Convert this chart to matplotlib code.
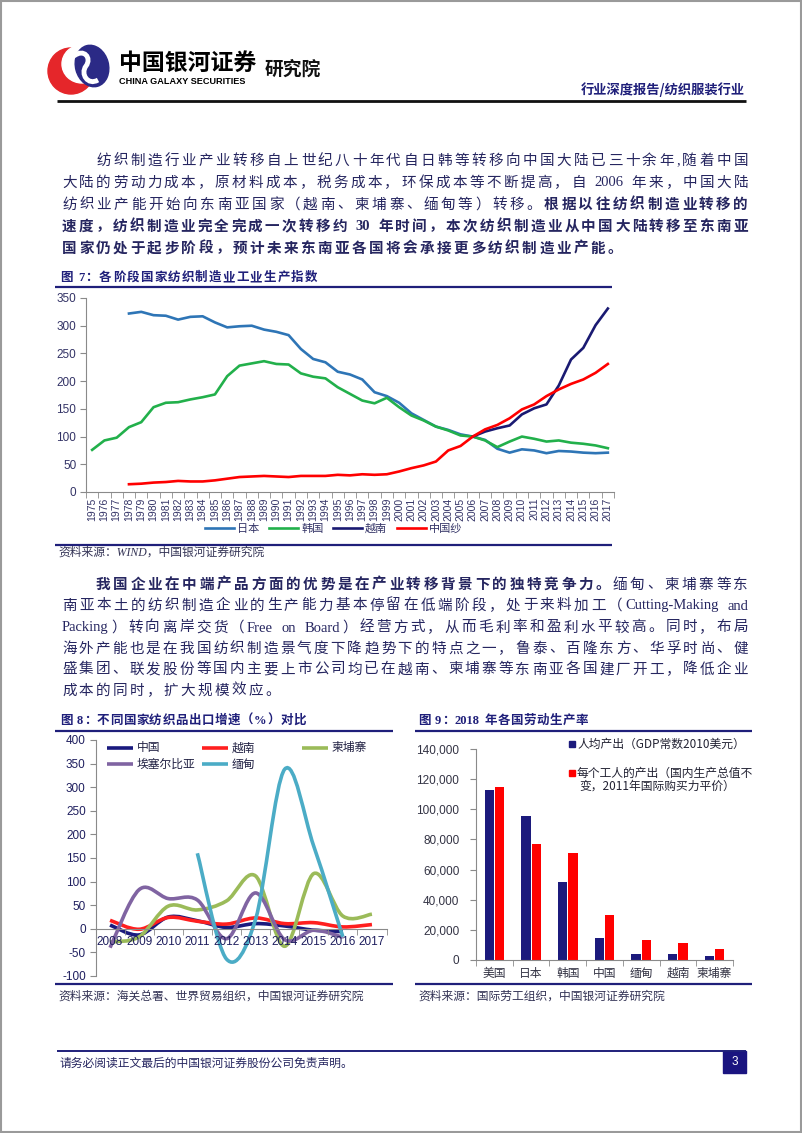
import numpy as np
import matplotlib
matplotlib.use("Agg")
import matplotlib.pyplot as plt
from matplotlib.path import Path
from matplotlib.patches import PathPatch, Rectangle, Ellipse

plt.rcParams['font.family'] = ['Liberation Sans', 'Noto Sans CJK SC']
plt.rcParams['axes.unicode_minus'] = False

nan = np.nan
W, H = 802, 1133
NAVY = '#1F1F7A'
TEXT = '#262660'
CJK = 'Noto Sans CJK SC'
LATIN = 'Liberation Serif'

# ---- figure 7 data: textile manufacturing production index ----
years7 = list(range(1975, 2018))
japan = [nan, nan, nan,
         322, 325, 319, 318, 311, 316, 317, 306, 297, 299,
         300, 293, 289, 283, 258, 240, 234, 217, 212, 203,
         180, 173, 161, 142, 130, 118, 112, 104, 100, 94,
         78, 71, 77, 75, 70, 74, 73, 71, 70, 71]
korea = [76, 93, 98, 117, 126, 153, 161, 162, 167, 171,
         176, 209, 228, 232, 236, 231, 230, 214, 208, 205,
         189, 177, 165, 160, 170, 153, 138, 129, 118, 111,
         102, 100, 93, 81, 91, 100, 96, 91, 93, 89,
         87, 84, 79]
vietnam7 = [nan] * 31 + [100, 109, 115, 120, 140, 151, 158, 192, 239, 260, 301, 331]
china_yarn = [nan, nan, nan,
              14, 15, 17, 18, 20, 19, 19, 21, 24, 27,
              28, 29, 28, 27, 29, 29, 29, 31, 30, 32,
              31, 32, 37, 43, 48, 55, 75, 83, 100, 113,
              121, 133, 149, 158, 173, 185, 195, 203, 215, 231]

# ---- figure 8 data: textile export growth (%) ----
years8 = list(range(2008, 2018))
china8 = [8, -13, 25, 17, 3, 11, 6, -3, -6, nan]
vietnam8 = [18, -1, 24, 16, 10, 23, 11, 13, 4, 9]
cambodia8 = [-28, -17, 48, 40, 59, 112, -37, 117, 27, 31]
ethiopia8 = [-40, 83, 64, 61, -21, 76, -23, -3, -18, nan]
myanmar8 = [nan, nan, nan, 160, -64, 20, 338, 175, -17, nan]

# ---- figure 9 data: labour productivity 2018 ----
countries9 = ['美国', '日本', '韩国', '中国', '缅甸', '越南', '柬埔寨']
per_capita = [112500, 95300, 51600, 14400, 3800, 3800, 2400]
per_worker = [115000, 76900, 71300, 29700, 13500, 11500, 7300]

fig = plt.figure(figsize=(W / 100, H / 100), dpi=100)
page = fig.add_axes([0, 0, 1, 1])
page.set_xlim(0, W)
page.set_ylim(H, 0)
page.axis('off')
renderer = fig.canvas.get_renderer()


def px_axes(l, t, r, b):
    ax = fig.add_axes([l / W, 1 - b / H, (r - l) / W, (b - t) / H])
    ax.patch.set_alpha(0)
    return ax


def tokens(segs):
    out = []
    for s, bold in segs:
        buf = ''
        for ch in s:
            if ord(ch) < 128 and ch != ' ':
                buf += ch
                continue
            if buf:
                out.append((buf, bold, 'lat'))
                buf = ''
            out.append((ch, bold, 'sp' if ch == ' ' else 'cjk'))
        if buf:
            out.append((buf, bold, 'lat'))
    return out


def place_line(segs, x0, x1, y, size, extra=None, color=TEXT):
    em = size * 100 / 72
    toks = tokens(segs)
    arts, widths = [], []
    for s, bold, kind in toks:
        if kind == 'sp':
            arts.append(None)
            widths.append(em * 0.25)
            continue
        fam = CJK if kind == 'cjk' else LATIN
        t = page.text(0, y, s, fontsize=size, family=fam,
                      weight='bold' if bold else 'normal',
                      color=color, va='baseline', ha='left')
        arts.append(t)
        widths.append(em if kind == 'cjk' else t.get_window_extent(renderer).width)
    if extra is None:
        extra = (x1 - x0 - sum(widths)) / (len(toks) - 1)
    x = x0
    for t, w in zip(arts, widths):
        if t is not None:
            t.set_x(x)
        x += w + extra
    return extra


def paragraph(lines, ys, size=10.5, x0=62, x1=748, indent=34):
    extras = []
    for i, (segs, y) in enumerate(zip(lines, ys)):
        start = x0 + indent if i == 0 else x0
        if i < len(lines) - 1:
            extras.append(place_line(segs, start, x1, y + 5.5, size))
        else:
            place_line(segs, start, x1, y + 5.5, size, extra=np.mean(extras))


def hline(x0, x1, y, color=NAVY, lw=1.6):
    page.plot([x0, x1], [y, y], color=color, lw=lw, solid_capstyle='butt')


# ---- page frame, header, logo ----
page.add_patch(Rectangle((0.8, 0.8), W - 1.6, H - 1.6, fill=False, edgecolor='#9a9a9a', lw=1.5))
page.add_patch(Ellipse((71, 71), 46, 46, color='#E5262A'))
page.add_patch(Ellipse((82, 64), 40, 38, color='white'))
page.add_patch(Ellipse((92, 66), 33, 42, angle=-15, color='#2B2A86'))
s_curve = Path([(74, 56), (84, 48), (92, 58), (86, 66), (80, 74), (88, 86), (98, 80)],
               [Path.MOVETO, Path.CURVE4, Path.CURVE4, Path.CURVE4, Path.CURVE4, Path.CURVE4, Path.CURVE4])
page.add_patch(PathPatch(s_curve, fill=False, edgecolor='white', lw=3.5))
page.text(119, 63, '中国银河证券', family=CJK, weight='bold', fontsize=16.5, color='black', va='center')
page.text(119, 82, 'CHINA GALAXY SECURITIES', family='Liberation Sans', weight='bold',
          fontsize=6.6, color='black', va='center')
page.text(265, 69, '研究院', family=CJK, weight='bold', fontsize=13.5, color='#111111', va='center')
page.text(745, 90, '行业深度报告/纺织服装行业', family=CJK, weight='bold', fontsize=9.5,
          color=NAVY, va='center', ha='right')
hline(57, 746, 101, color='#111111', lw=2)

# ---- paragraph 1 ----
para1 = [
    [('纺织制造行业产业转移自上世纪八十年代自日韩等转移向中国大陆已三十余年,随着中国', False)],
    [('大陆的劳动力成本，原材料成本，税务成本，环保成本等不断提高，自 2006 年来，中国大陆', False)],
    [('纺织业产能开始向东南亚国家（越南、柬埔寨、缅甸等）转移。', False), ('根据以往纺织制造业转移的', True)],
    [('速度，纺织制造业完全完成一次转移约 30 年时间，本次纺织制造业从中国大陆转移至东南亚', True)],
    [('国家仍处于起步阶段，预计未来东南亚各国将会承接更多纺织制造业产能。', True)],
]
paragraph(para1, [159, 181, 203, 225, 247])

# ---- figure 7 ----
place_line([('图 7：各阶段国家纺织制造业工业生产指数', True)], 60, 0, 281, 9, extra=1.2, color=NAVY)
hline(55, 612, 287)

ax7 = px_axes(86, 298, 614, 492)
ax7.plot(years7, japan, color='#2E75B6', lw=1.9, label='日本')
ax7.plot(years7, korea, color='#22B04B', lw=1.9, label='韩国')
ax7.plot(years7, vietnam7, color='#1A1A72', lw=1.9, label='越南')
ax7.plot(years7, china_yarn, color='#FF0000', lw=1.9, label='中国纱')
ax7.set_xlim(1974.5, 2017.5)
ax7.set_ylim(0, 350)
ax7.set_xticks(years7)
ax7.set_xticklabels([str(y) for y in years7], rotation=90, fontsize=7.5, color='#333366')
ax7.set_xticks(np.arange(1974.5, 2018, 1), minor=True)
ax7.tick_params(axis='x', which='major', length=0, pad=4)
ax7.tick_params(axis='x', which='minor', length=4, color='#8a8a8a')
ax7.set_yticks(range(0, 351, 50))
ax7.tick_params(axis='y', length=4, color='#8a8a8a', labelsize=8.5, labelcolor='#333366', pad=3)
for s in ['top', 'right']:
    ax7.spines[s].set_visible(False)
for s in ['left', 'bottom']:
    ax7.spines[s].set_color('#8a8a8a')
ax7.legend(loc='center left', bbox_to_anchor=(205, 529), bbox_transform=page.transData,
           ncol=4, frameon=False, prop={'family': CJK, 'size': 8}, labelcolor='#333366',
           handlelength=2.6, handletextpad=0.3, columnspacing=0.85, borderpad=0, borderaxespad=0)
hline(55, 612, 545)
page.text(58, 553, '资料来源：WIND，中国银河证券研究院', family=[LATIN, CJK], style='italic',
          fontsize=8.5, color='#333355', va='center')

# ---- paragraph 2 ----
para2 = [
    [('我国企业在中端产品方面的优势是在产业转移背景下的独特竞争力。', True), ('缅甸、柬埔寨等东', False)],
    [('南亚本土的纺织制造企业的生产能力基本停留在低端阶段，处于来料加工（Cutting-Making and', False)],
    [('Packing）转向离岸交货（Free on Board）经营方式，从而毛利率和盈利水平较高。同时，布局', False)],
    [('海外产能也是在我国纺织制造景气度下降趋势下的特点之一，鲁泰、百隆东方、华孚时尚、健', False)],
    [('盛集团、联发股份等国内主要上市公司均已在越南、柬埔寨等东南亚各国建厂开工，降低企业', False)],
    [('成本的同时，扩大规模效应。', False)],
]
paragraph(para2, [583, 604, 626, 647, 668, 689])

# ---- figure 8 ----
place_line([('图 8：不同国家纺织品出口增速（%）对比', True)], 60, 0, 724, 9, extra=0.6, color=NAVY)
hline(55, 393, 731)


def smooth_path(xs, ys):
    p = np.array([(x, y) for x, y in zip(xs, ys) if not np.isnan(y)], float)
    n = len(p)
    verts, codes = [p[0]], [Path.MOVETO]
    for i in range(n - 1):
        p0 = p[i - 1] if i > 0 else p[i]
        p3 = p[i + 2] if i + 2 < n else p[i + 1]
        verts += [p[i] + (p[i + 1] - p0) / 6, p[i + 1] - (p3 - p[i]) / 6, p[i + 1]]
        codes += [Path.CURVE4] * 3
    return Path(verts, codes)


ax8 = px_axes(95.5, 740, 386.5, 976)
series8 = [('中国', china8, '#1A1A7E'), ('越南', vietnam8, '#FF1F1F'),
           ('柬埔寨', cambodia8, '#9BBB59'), ('埃塞尔比亚', ethiopia8, '#8064A2'),
           ('缅甸', myanmar8, '#4BACC6')]
for name, vals, c in series8:
    ax8.add_patch(PathPatch(smooth_path(years8, vals), fill=False, edgecolor=c, lw=2.6,
                            capstyle='butt', joinstyle='round'))
ax8.set_xlim(2007.5, 2017.5)
ax8.set_ylim(-100, 400)
ax8.spines['bottom'].set_position(('data', 0))
for s in ['top', 'right']:
    ax8.spines[s].set_visible(False)
for s in ['left', 'bottom']:
    ax8.spines[s].set_color('#8a8a8a')
ax8.set_xticks(years8)
ax8.set_xticklabels([str(y) for y in years8], fontsize=8.5, color='#1F1F5F')
ax8.set_xticks(np.arange(2007.5, 2018, 1), minor=True)
ax8.tick_params(axis='x', which='major', length=0, pad=5)
ax8.tick_params(axis='x', which='minor', length=4, color='#8a8a8a')
ax8.set_yticks(range(-100, 401, 50))
ax8.tick_params(axis='y', length=4, color='#8a8a8a', labelsize=8.5, labelcolor='#1F1F5F', pad=3)

legend8 = [(107, 748), (202, 748), (302, 748), (107, 764), (202, 764)]
for (name, vals, c), (lx, ly) in zip(series8, legend8):
    page.plot([lx, lx + 26], [ly, ly], color=c, lw=2.6, solid_capstyle='butt')
    page.text(lx + 30, ly, name, family=CJK, fontsize=8.5, color='#222244', va='center')
hline(55, 393, 984)
page.text(58, 997, '资料来源：海关总署、世界贸易组织，中国银河证券研究院', family=[LATIN, CJK],
          style='italic', fontsize=8.5, color='#333355', va='center')

# ---- figure 9 ----
place_line([('图 9：2018 年各国劳动生产率', True)], 418, 0, 724, 9, extra=0.6, color=NAVY)
hline(415, 752, 731)

ax9 = px_axes(476, 749, 733, 960)
x9 = np.arange(len(countries9))
ax9.bar(x9 - 0.14, per_capita, width=0.25, color='#1C1A7C')
ax9.bar(x9 + 0.14, per_worker, width=0.25, color='#FF0000')
ax9.set_xlim(-0.5, len(countries9) - 0.5)
ax9.set_ylim(0, 140000)
ax9.set_yticks(range(0, 140001, 20000))
ax9.set_yticklabels([f'{v:,}' for v in range(0, 140001, 20000)])
ax9.tick_params(axis='y', length=4, color='#8a8a8a', labelsize=8.5, labelcolor='#333344', pad=8)
ax9.set_xticks(x9)
ax9.set_xticklabels(countries9, family=CJK, fontsize=8.5, color='#333344')
ax9.set_xticks(np.arange(-0.5, len(countries9), 1), minor=True)
ax9.tick_params(axis='x', which='major', length=0, pad=5)
ax9.tick_params(axis='x', which='minor', length=4, color='#8a8a8a')
for s in ['top', 'right']:
    ax9.spines[s].set_visible(False)
for s in ['left', 'bottom']:
    ax9.spines[s].set_color('#8a8a8a')

page.plot([572], [744], marker='s', ms=5, color='#1C1A7C', ls='none')
page.text(577, 744, '人均产出（GDP常数2010美元）', family=CJK, fontsize=8.5, color='#222233', va='center')
page.plot([572], [773], marker='s', ms=5, color='#FF0000', ls='none')
page.text(577, 773, '每个工人的产出（国内生产总值不', family=CJK, fontsize=8.5, color='#222233', va='center')
page.text(579, 786, '变，2011年国际购买力平价）', family=CJK, fontsize=8.5, color='#222233', va='center')
hline(415, 752, 984)
page.text(418, 997, '资料来源：国际劳工组织，中国银河证券研究院', family=[LATIN, CJK],
          style='italic', fontsize=8.5, color='#333355', va='center')

# ---- footer ----
hline(57, 746, 1051, lw=1.4)
page.text(60, 1063, '请务必阅读正文最后的中国银河证券股份公司免责声明。', family=CJK,
          fontsize=8.5, color=TEXT, va='center')
page.add_patch(Rectangle((723, 1051), 23, 22, color='#1A1480'))
page.text(734.5, 1062, '3', color='white', fontsize=8.5, ha='center', va='center')

fig.savefig('out.png', dpi=100)
